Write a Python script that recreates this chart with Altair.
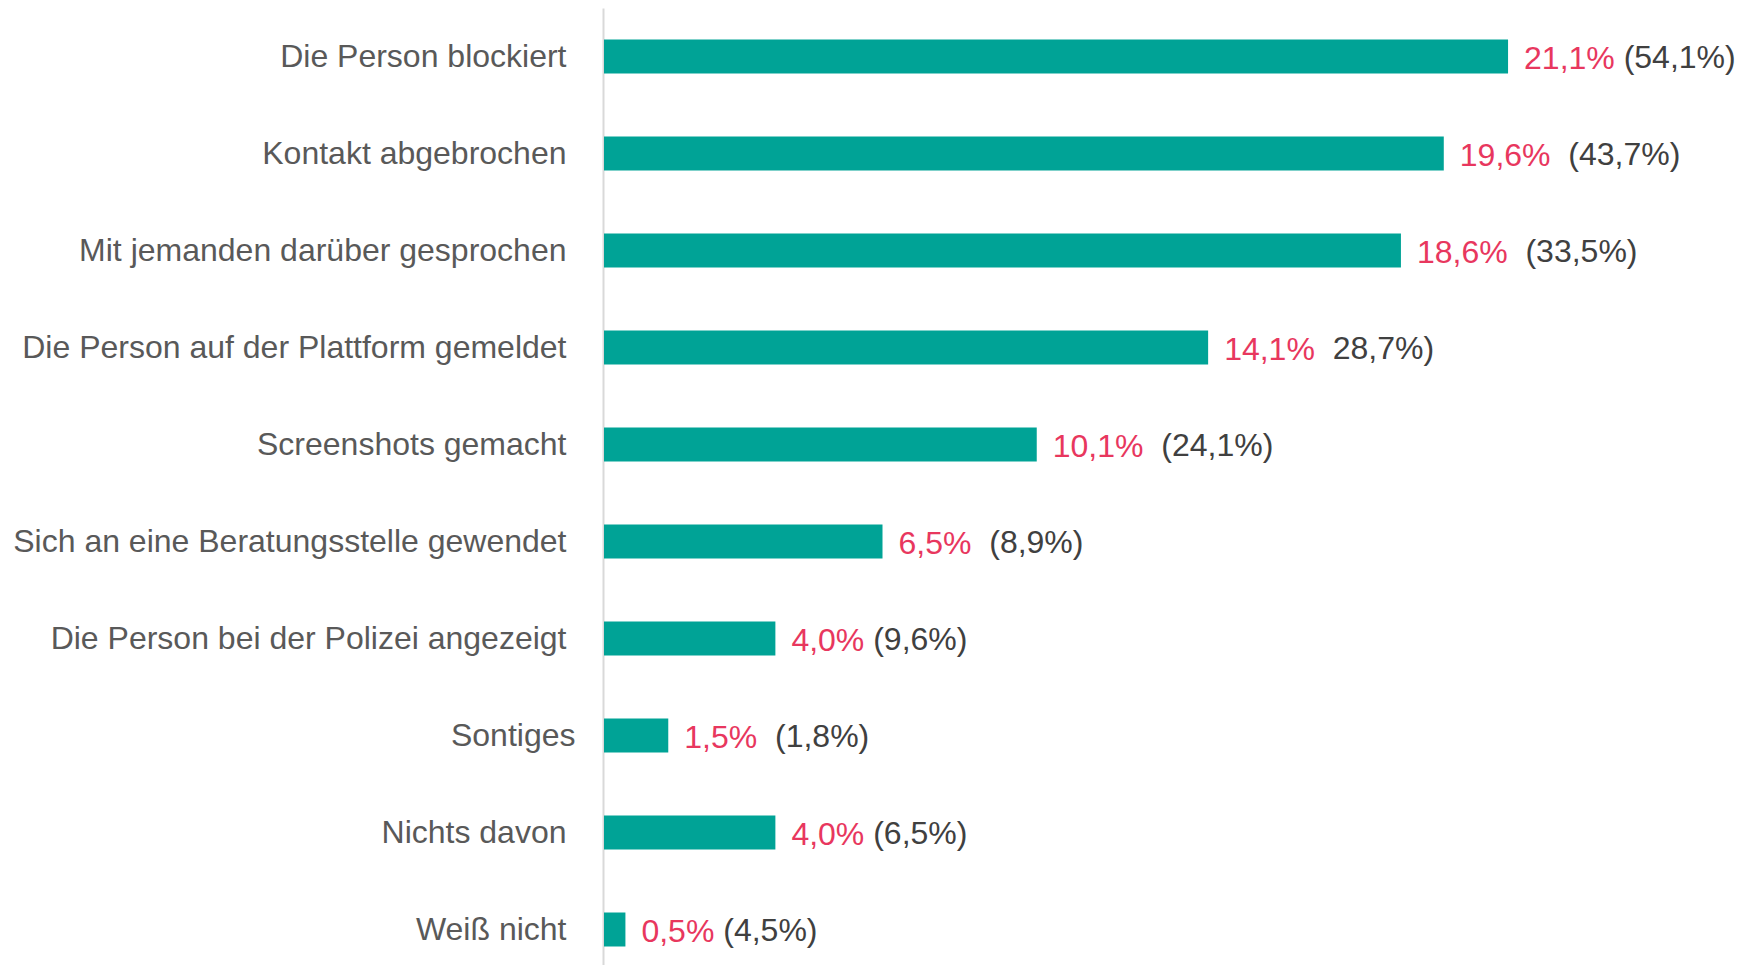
import altair as alt
import pandas as pd

categories = [
    "Die Person blockiert",
    "Kontakt abgebrochen",
    "Mit jemanden darüber gesprochen",
    "Die Person auf der Plattform gemeldet",
    "Screenshots gemacht",
    "Sich an eine Beratungsstelle gewendet",
    "Die Person bei der Polizei angezeigt",
    "Sontiges",
    "Nichts davon",
    "Weiß nicht",
]
shares = [21.1, 19.6, 18.6, 14.1, 10.1, 6.5, 4.0, 1.5, 4.0, 0.5]
value_texts = [
    "21,1% (54,1%)",
    "19,6%  (43,7%)",
    "18,6%  (33,5%)",
    "14,1%  28,7%)",
    "10,1%  (24,1%)",
    "6,5%  (8,9%)",
    "4,0% (9,6%)",
    "1,5%  (1,8%)",
    "4,0% (6,5%)",
    "0,5% (4,5%)",
]

FONT = "Liberation Sans"
FS = 32
X_MAX = 26
PLOT_W = 1114
PLOT_H = 957
LABEL_GAP = 16

# Arial / Liberation Sans advance widths (per 1000 em)
ADV = {d: 556 for d in "0123456789"}
ADV.update({",": 278, "%": 889, "(": 333, ")": 333, " ": 278})


def text_px(s):
    return sum(ADV[c] for c in s) * FS / 1000.0


rows = []
for cat, v, t in zip(categories, shares, value_texts):
    first, rest = t.split(" ", 1)
    second = rest.lstrip(" ")
    n_sp = len(rest) - len(second) + 1
    offset_px = LABEL_GAP + text_px(first) + n_sp * ADV[" "] * FS / 1000.0
    rows.append(
        dict(cat=cat, share=v, first=first, second=second,
             x2=v + offset_px * X_MAX / PLOT_W)
    )
df = pd.DataFrame(rows)

xscale = alt.Scale(domain=[0, X_MAX], nice=False, zero=True)
yscale = alt.Scale(range=[0, 970], paddingInner=0, paddingOuter=0)

base = alt.Chart(df).encode(
    y=alt.Y(
        "cat:N",
        sort=categories,
        scale=yscale,
        axis=alt.Axis(
            title=None,
            ticks=False,
            grid=False,
            domainColor="#d9d9d9",
            domainWidth=2,
            offset=1,
            labelFont=FONT,
            labelFontSize=FS,
            labelColor="#595959",
            labelPadding={"condition": {"test": "datum.value == 'Sontiges'", "value": 28}, "value": 37},
            labelLimit=0,
        ),
    )
)

bars = base.mark_bar(color="#00A396", size=34).encode(
    x=alt.X("share:Q", scale=xscale, axis=None)
)
pink = base.mark_text(
    align="left", baseline="middle", dx=LABEL_GAP, dy=2, font=FONT, fontSize=FS,
    color="#E8375E",
).encode(x=alt.X("share:Q", scale=xscale, axis=None), text="first:N")
dark = base.mark_text(
    align="left", baseline="middle", dy=1, font=FONT, fontSize=FS, color="#404040",
).encode(x=alt.X("x2:Q", scale=xscale, axis=None), text="second:N")

chart = (
    alt.layer(bars, pink, dark)
    .properties(
        width=PLOT_W,
        height=PLOT_H,
        background="white",
        autosize=alt.AutoSizeParams(type="none"),
        padding={"left": 596, "top": 0, "right": 18, "bottom": 0},
    )
    .configure_view(stroke=None)
)

chart.save("out.html", embed_options={"renderer": "svg", "actions": False})
